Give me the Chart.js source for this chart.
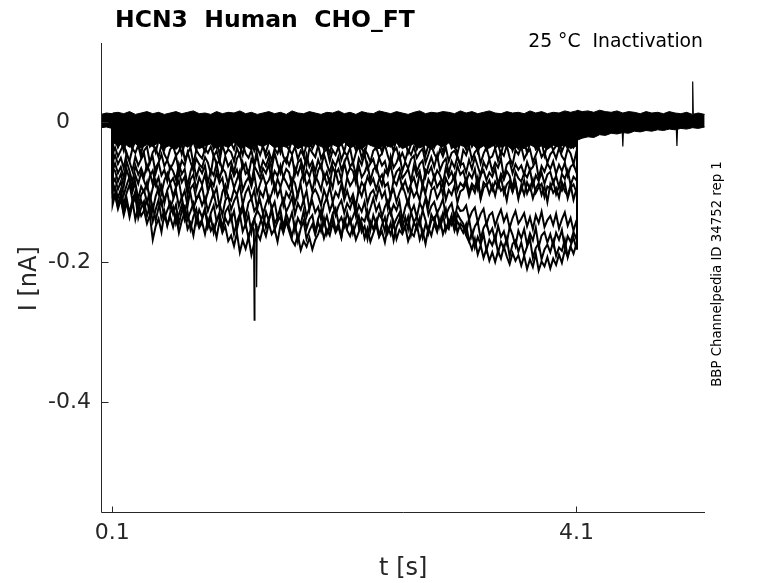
<!DOCTYPE html>
<html><head><meta charset="utf-8">
<script src="https://cdn.jsdelivr.net/npm/chart.js@4.4.1/dist/chart.umd.min.js"></script>
<style>html,body{margin:0;padding:0;background:#fff;}#wrap{width:778px;height:583px;position:relative;}</style>
</head><body><div id="wrap"><canvas id="c" width="778" height="583"></canvas></div>
<script>
const titleText = 'HCN3  Human  CHO_FT';
const conditionText = '25 °C  Inactivation';
const sideText = 'BBP Channelpedia ID 34752 rep 1';
const xLabel = 't [s]';
const yLabel = 'I [nA]';
const xTicks = [0.1, 4.1];
const yTicks = [0, -0.2, -0.4];
const xRange = [0.004, 5.208];
const yRange = [-0.557, 0.113];

// time samples of the test-pulse segment (s)
const tStep = [0.100, 0.104,
 0.125,0.150,0.175,0.200,0.225,0.250,0.275,0.300,0.325,0.350,
 0.375,0.400,0.425,0.450,0.475,0.500,0.525,0.550,0.575,0.600,
 0.625,0.650,0.675,0.700,0.725,0.750,0.775,0.800,0.825,0.850,
 0.875,0.900,0.925,0.950,0.975,1.000,1.025,1.050,1.075,1.100,
 1.125,1.150,1.175,1.200,1.225,1.250,1.275,1.300,1.325,1.350,
 1.375,1.400,1.425,1.450,1.475,1.500,1.525,1.550,1.575,1.600,
 1.625,1.650,1.675,1.700,1.725,1.750,1.775,1.800,1.825,1.850,
 1.875,1.900,1.925,1.950,1.975,2.000,2.025,2.050,2.075,2.100,
 2.125,2.150,2.175,2.200,2.225,2.250,2.275,2.300,2.325,2.350,
 2.375,2.400,2.425,2.450,2.475,2.500,2.525,2.550,2.575,2.600,
 2.625,2.650,2.675,2.700,2.725,2.750,2.775,2.800,2.825,2.850,
 2.875,2.900,2.925,2.950,2.975,3.000,3.025,3.050,3.075,3.100,
 3.125,3.150,3.175,3.200,3.225,3.250,3.275,3.300,3.325,3.350,
 3.375,3.400,3.425,3.450,3.475,3.500,3.525,3.550,3.575,3.600,
 3.625,3.650,3.675,3.700,3.725,3.750,3.775,3.800,3.825,3.850,
 3.875,3.900,3.925,3.950,3.975,4.000,4.025,4.050,4.075,4.100,
 4.105];

// sweep currents (nA), one array per sweep, sampled at tStep
const sweepA = [0.004, -0.008,
 -0.003,-0.008,0.001,-0.006,-0.012,-0.002,-0.007,0.002,-0.010,-0.004,
 -0.001,-0.009,-0.005,0.001,-0.013,-0.006,-0.002,-0.008,0.000,-0.011,
 -0.004,-0.007,0.002,-0.009,-0.003,-0.012,-0.005,0.000,-0.008,-0.002,
 -0.010,-0.004,-0.001,-0.007,-0.013,-0.003,0.001,-0.009,-0.005,-0.011,
 -0.002,-0.006,0.002,-0.010,-0.004,-0.008,-0.001,-0.012,-0.006,0.000,
 -0.009,-0.003,-0.007,0.001,-0.011,-0.005,-0.002,-0.008,-0.004,-0.013,
 0.000,-0.006,-0.010,-0.002,-0.007,0.002,-0.009,-0.004,-0.012,-0.001,
 -0.005,-0.011,-0.003,-0.008,0.001,-0.006,-0.010,-0.002,-0.007,-0.004,
 -0.012,-0.001,-0.006,-0.009,0.000,-0.005,-0.011,-0.003,-0.008,0.002,
 -0.007,-0.010,-0.004,-0.001,-0.009,-0.013,-0.002,-0.006,0.001,-0.008,
 -0.003,-0.011,-0.005,0.000,-0.008,-0.002,-0.012,-0.006,-0.004,-0.009,
 0.001,-0.007,-0.010,-0.003,-0.006,-0.013,-0.001,-0.008,-0.005,-0.002,
 -0.009,-0.004,0.000,-0.011,-0.006,-0.002,-0.008,-0.012,-0.003,-0.007,
 -0.001,-0.010,-0.005,0.002,-0.009,-0.004,-0.007,-0.013,-0.002,-0.006,
 -0.011,-0.003,-0.008,0.000,-0.006,-0.010,-0.002,-0.009,-0.005,-0.012,
 -0.004,0.001,-0.008,-0.006,-0.011,-0.002,-0.007,-0.003,-0.010,-0.005,
 0.002];
const sweepB = [0.003, -0.020,
 -0.012,-0.022,-0.009,-0.018,-0.026,-0.013,-0.020,-0.008,-0.016,-0.024,
 -0.014,-0.010,-0.021,-0.017,-0.028,-0.012,-0.019,-0.011,-0.023,-0.015,
 -0.009,-0.020,-0.013,-0.025,-0.016,-0.011,-0.022,-0.018,-0.010,-0.027,
 -0.015,-0.019,-0.008,-0.021,-0.014,-0.024,-0.012,-0.017,-0.029,-0.013,
 -0.020,-0.011,-0.016,-0.023,-0.010,-0.018,-0.026,-0.014,-0.019,-0.009,
 -0.022,-0.015,-0.012,-0.027,-0.017,-0.021,-0.010,-0.016,-0.024,-0.013,
 -0.018,-0.009,-0.023,-0.014,-0.020,-0.028,-0.012,-0.017,-0.011,-0.025,
 -0.013,-0.021,-0.016,-0.010,-0.026,-0.015,-0.019,-0.022,-0.012,-0.018,
 -0.024,-0.011,-0.017,-0.020,-0.009,-0.023,-0.014,-0.027,-0.016,-0.012,
 -0.019,-0.025,-0.013,-0.018,-0.022,-0.010,-0.021,-0.015,-0.028,-0.014,
 -0.010,-0.020,-0.016,-0.024,-0.012,-0.019,-0.026,-0.011,-0.017,-0.022,
 -0.015,-0.027,-0.013,-0.018,-0.021,-0.009,-0.023,-0.016,-0.020,-0.012,
 -0.025,-0.014,-0.019,-0.011,-0.022,-0.017,-0.028,-0.013,-0.018,-0.021,
 -0.012,-0.020,-0.024,-0.015,-0.010,-0.026,-0.017,-0.019,-0.013,-0.023,
 -0.018,-0.011,-0.021,-0.027,-0.014,-0.020,-0.012,-0.025,-0.016,-0.019,
 -0.022,-0.013,-0.017,-0.024,-0.010,-0.021,-0.015,-0.026,-0.018,-0.014,
 -0.006];
const sweepC = [0.002, -0.034,
 -0.024,-0.036,-0.027,-0.041,-0.022,-0.031,-0.038,-0.025,-0.033,-0.044,
 -0.028,-0.021,-0.035,-0.030,-0.043,-0.026,-0.032,-0.039,-0.023,-0.034,
 -0.037,-0.025,-0.029,-0.046,-0.031,-0.020,-0.035,-0.028,-0.040,-0.026,
 -0.033,-0.042,-0.027,-0.024,-0.038,-0.030,-0.045,-0.029,-0.022,-0.036,
 -0.030,-0.039,-0.023,-0.034,-0.047,-0.028,-0.032,-0.025,-0.041,-0.031,
 -0.026,-0.037,-0.043,-0.029,-0.021,-0.035,-0.031,-0.044,-0.027,-0.033,
 -0.040,-0.024,-0.030,-0.036,-0.028,-0.048,-0.032,-0.025,-0.038,-0.029,
 -0.034,-0.022,-0.039,-0.031,-0.045,-0.027,-0.023,-0.036,-0.030,-0.042,
 -0.025,-0.033,-0.029,-0.040,-0.024,-0.037,-0.046,-0.028,-0.032,-0.021,
 -0.038,-0.030,-0.043,-0.026,-0.034,-0.029,-0.041,-0.023,-0.035,-0.031,
 -0.027,-0.044,-0.032,-0.024,-0.039,-0.030,-0.026,-0.047,-0.033,-0.028,
 -0.036,-0.025,-0.031,-0.042,-0.029,-0.022,-0.037,-0.033,-0.045,-0.027,
 -0.030,-0.039,-0.024,-0.035,-0.028,-0.043,-0.031,-0.026,-0.040,-0.034,
 -0.023,-0.037,-0.032,-0.046,-0.029,-0.035,-0.025,-0.041,-0.030,-0.038,
 -0.033,-0.027,-0.044,-0.031,-0.024,-0.039,-0.035,-0.028,-0.048,-0.032,
 -0.029,-0.040,-0.034,-0.026,-0.042,-0.031,-0.037,-0.025,-0.036,-0.030,
 -0.010];
const sweepD = [0.003, -0.046,
 -0.036,-0.049,-0.040,-0.031,-0.047,-0.055,-0.038,-0.044,-0.033,-0.051,
 -0.041,-0.035,-0.058,-0.043,-0.037,-0.050,-0.032,-0.046,-0.054,-0.039,
 -0.034,-0.048,-0.042,-0.030,-0.053,-0.045,-0.036,-0.060,-0.040,-0.047,
 -0.052,-0.038,-0.044,-0.035,-0.049,-0.041,-0.057,-0.033,-0.046,-0.039,
 -0.043,-0.056,-0.037,-0.048,-0.031,-0.045,-0.051,-0.040,-0.062,-0.036,
 -0.047,-0.034,-0.050,-0.042,-0.055,-0.038,-0.045,-0.032,-0.049,-0.058,
 -0.039,-0.046,-0.035,-0.053,-0.041,-0.048,-0.061,-0.037,-0.044,-0.050,
 -0.033,-0.052,-0.043,-0.038,-0.056,-0.040,-0.047,-0.035,-0.054,-0.042,
 -0.048,-0.037,-0.059,-0.044,-0.034,-0.051,-0.039,-0.046,-0.057,-0.041,
 -0.036,-0.050,-0.045,-0.032,-0.048,-0.060,-0.042,-0.037,-0.053,-0.044,
 -0.055,-0.040,-0.047,-0.035,-0.051,-0.043,-0.038,-0.058,-0.046,-0.033,
 -0.045,-0.053,-0.039,-0.049,-0.036,-0.056,-0.044,-0.041,-0.050,-0.062,
 -0.040,-0.047,-0.034,-0.054,-0.043,-0.038,-0.059,-0.045,-0.036,-0.052,
 -0.049,-0.037,-0.055,-0.042,-0.048,-0.033,-0.051,-0.061,-0.040,-0.046,
 -0.035,-0.053,-0.044,-0.039,-0.057,-0.047,-0.036,-0.050,-0.043,-0.058,
 -0.046,-0.041,-0.052,-0.037,-0.049,-0.055,-0.038,-0.045,-0.060,-0.042,
 -0.014];
const sweepE = [0.001, -0.058,
 -0.047,-0.060,-0.051,-0.066,-0.044,-0.057,-0.070,-0.049,-0.062,-0.053,
 -0.045,-0.068,-0.056,-0.050,-0.073,-0.058,-0.046,-0.063,-0.054,-0.067,
 -0.059,-0.048,-0.071,-0.055,-0.062,-0.043,-0.057,-0.069,-0.052,-0.060,
 -0.065,-0.050,-0.058,-0.074,-0.047,-0.061,-0.054,-0.068,-0.049,-0.063,
 -0.056,-0.072,-0.052,-0.045,-0.066,-0.059,-0.076,-0.053,-0.061,-0.048,
 -0.070,-0.055,-0.063,-0.050,-0.067,-0.044,-0.060,-0.073,-0.057,-0.051,
 -0.062,-0.049,-0.075,-0.058,-0.053,-0.069,-0.047,-0.064,-0.056,-0.071,
 -0.054,-0.066,-0.046,-0.060,-0.072,-0.055,-0.063,-0.050,-0.068,-0.058,
 -0.048,-0.064,-0.057,-0.077,-0.052,-0.061,-0.045,-0.067,-0.059,-0.053,
 -0.069,-0.051,-0.062,-0.056,-0.074,-0.049,-0.065,-0.058,-0.046,-0.070,
 -0.057,-0.066,-0.053,-0.048,-0.071,-0.060,-0.055,-0.078,-0.062,-0.050,
 -0.064,-0.047,-0.069,-0.058,-0.052,-0.073,-0.056,-0.065,-0.049,-0.061,
 -0.059,-0.072,-0.054,-0.067,-0.050,-0.063,-0.076,-0.057,-0.066,-0.053,
 -0.070,-0.058,-0.065,-0.052,-0.079,-0.061,-0.056,-0.073,-0.060,-0.068,
 -0.062,-0.075,-0.057,-0.069,-0.064,-0.054,-0.080,-0.063,-0.071,-0.059,
 -0.067,-0.056,-0.074,-0.061,-0.070,-0.058,-0.077,-0.064,-0.060,-0.072,
 -0.016];
const sweepF = [0.002, -0.070,
 -0.059,-0.073,-0.064,-0.080,-0.056,-0.070,-0.086,-0.062,-0.075,-0.066,
 -0.078,-0.061,-0.072,-0.089,-0.065,-0.058,-0.076,-0.068,-0.084,-0.063,
 -0.070,-0.082,-0.060,-0.074,-0.067,-0.091,-0.071,-0.057,-0.079,-0.065,
 -0.073,-0.062,-0.087,-0.069,-0.076,-0.059,-0.081,-0.066,-0.072,-0.090,
 -0.064,-0.077,-0.068,-0.083,-0.058,-0.074,-0.069,-0.088,-0.063,-0.071,
 -0.080,-0.066,-0.073,-0.060,-0.085,-0.070,-0.077,-0.062,-0.079,-0.067,
 -0.072,-0.092,-0.065,-0.075,-0.061,-0.083,-0.068,-0.078,-0.063,-0.086,
 -0.069,-0.060,-0.081,-0.071,-0.089,-0.064,-0.074,-0.067,-0.082,-0.058,
 -0.076,-0.065,-0.070,-0.087,-0.062,-0.079,-0.072,-0.060,-0.084,-0.068,
 -0.063,-0.078,-0.090,-0.069,-0.075,-0.061,-0.083,-0.071,-0.066,-0.080,
 -0.074,-0.067,-0.085,-0.062,-0.077,-0.070,-0.093,-0.068,-0.073,-0.064,
 -0.081,-0.069,-0.076,-0.088,-0.065,-0.079,-0.071,-0.084,-0.062,-0.075,
 -0.070,-0.086,-0.073,-0.080,-0.067,-0.094,-0.075,-0.069,-0.083,-0.072,
 -0.078,-0.066,-0.089,-0.074,-0.082,-0.070,-0.077,-0.095,-0.071,-0.080,
 -0.085,-0.073,-0.079,-0.068,-0.091,-0.076,-0.084,-0.072,-0.088,-0.075,
 -0.071,-0.087,-0.077,-0.093,-0.074,-0.081,-0.069,-0.090,-0.078,-0.083,
 -0.018];
const sweepG = [0.001, -0.066,
 -0.070,-0.085,-0.074,-0.092,-0.068,-0.081,-0.098,-0.076,-0.088,-0.072,
 -0.084,-0.095,-0.077,-0.069,-0.090,-0.079,-0.101,-0.083,-0.073,-0.087,
 -0.080,-0.093,-0.071,-0.086,-0.078,-0.104,-0.082,-0.075,-0.096,-0.079,
 -0.089,-0.074,-0.099,-0.083,-0.091,-0.072,-0.087,-0.080,-0.105,-0.085,
 -0.077,-0.094,-0.082,-0.070,-0.097,-0.086,-0.079,-0.092,-0.075,-0.102,
 -0.088,-0.076,-0.090,-0.083,-0.071,-0.098,-0.081,-0.093,-0.078,-0.086,
 -0.095,-0.080,-0.087,-0.106,-0.084,-0.073,-0.091,-0.082,-0.099,-0.077,
 -0.085,-0.097,-0.074,-0.089,-0.081,-0.094,-0.070,-0.088,-0.083,-0.103,
 -0.079,-0.091,-0.084,-0.072,-0.100,-0.086,-0.093,-0.078,-0.089,-0.081,
 -0.096,-0.082,-0.075,-0.092,-0.087,-0.107,-0.083,-0.090,-0.076,-0.094,
 -0.084,-0.099,-0.088,-0.079,-0.095,-0.073,-0.089,-0.101,-0.082,-0.091,
 -0.077,-0.093,-0.085,-0.104,-0.080,-0.090,-0.086,-0.075,-0.098,-0.087,
 -0.092,-0.081,-0.100,-0.088,-0.094,-0.079,-0.108,-0.086,-0.091,-0.083,
 -0.097,-0.085,-0.093,-0.078,-0.102,-0.089,-0.084,-0.099,-0.087,-0.110,
 -0.090,-0.104,-0.086,-0.096,-0.082,-0.101,-0.093,-0.088,-0.107,-0.092,
 -0.095,-0.084,-0.103,-0.091,-0.098,-0.087,-0.109,-0.094,-0.089,-0.100,
 -0.019];
const sweepH = [0.002, -0.088,
 -0.081,-0.096,-0.085,-0.104,-0.090,-0.078,-0.099,-0.087,-0.110,-0.092,
 -0.100,-0.086,-0.113,-0.094,-0.083,-0.102,-0.091,-0.116,-0.097,-0.088,
 -0.106,-0.093,-0.084,-0.109,-0.098,-0.120,-0.095,-0.089,-0.111,-0.101,
 -0.092,-0.115,-0.099,-0.087,-0.105,-0.094,-0.122,-0.100,-0.090,-0.108,
 -0.112,-0.096,-0.104,-0.089,-0.118,-0.101,-0.093,-0.110,-0.097,-0.124,
 -0.099,-0.107,-0.091,-0.114,-0.102,-0.088,-0.106,-0.095,-0.119,-0.100,
 -0.108,-0.094,-0.117,-0.101,-0.090,-0.112,-0.098,-0.125,-0.103,-0.096,
 -0.105,-0.119,-0.097,-0.109,-0.092,-0.114,-0.100,-0.107,-0.089,-0.111,
 -0.098,-0.113,-0.103,-0.121,-0.095,-0.106,-0.091,-0.116,-0.102,-0.097,
 -0.110,-0.093,-0.108,-0.099,-0.123,-0.104,-0.096,-0.114,-0.101,-0.090,
 -0.102,-0.118,-0.094,-0.107,-0.099,-0.112,-0.088,-0.105,-0.120,-0.097,
 -0.093,-0.109,-0.100,-0.086,-0.111,-0.097,-0.104,-0.091,-0.115,-0.099,
 -0.096,-0.087,-0.106,-0.092,-0.101,-0.084,-0.110,-0.094,-0.089,-0.103,
 -0.090,-0.105,-0.086,-0.098,-0.093,-0.112,-0.088,-0.100,-0.085,-0.107,
 -0.097,-0.083,-0.102,-0.091,-0.109,-0.095,-0.087,-0.104,-0.092,-0.114,
 -0.089,-0.101,-0.094,-0.108,-0.086,-0.099,-0.105,-0.090,-0.111,-0.096,
 -0.020];
const sweepI = [0.001, -0.098,
 -0.092,-0.108,-0.096,-0.117,-0.101,-0.089,-0.112,-0.099,-0.121,-0.104,
 -0.097,-0.115,-0.103,-0.126,-0.106,-0.094,-0.118,-0.109,-0.100,-0.123,
 -0.111,-0.098,-0.120,-0.107,-0.130,-0.113,-0.102,-0.124,-0.110,-0.105,
 -0.119,-0.108,-0.127,-0.114,-0.101,-0.122,-0.116,-0.133,-0.112,-0.106,
 -0.125,-0.113,-0.104,-0.129,-0.118,-0.136,-0.115,-0.109,-0.127,-0.120,
 -0.112,-0.131,-0.117,-0.106,-0.124,-0.114,-0.138,-0.121,-0.110,-0.128,
 -0.119,-0.107,-0.132,-0.116,-0.125,-0.111,-0.135,-0.122,-0.113,-0.129,
 -0.121,-0.139,-0.118,-0.108,-0.127,-0.115,-0.133,-0.120,-0.112,-0.130,
 -0.116,-0.124,-0.110,-0.134,-0.119,-0.128,-0.114,-0.137,-0.123,-0.109,
 -0.127,-0.117,-0.135,-0.121,-0.112,-0.131,-0.118,-0.126,-0.113,-0.140,
 -0.122,-0.111,-0.129,-0.119,-0.136,-0.115,-0.125,-0.109,-0.132,-0.120,
 -0.114,-0.130,-0.121,-0.110,-0.134,-0.123,-0.116,-0.138,-0.119,-0.127,
 -0.126,-0.119,-0.139,-0.128,-0.122,-0.143,-0.131,-0.124,-0.146,-0.133,
 -0.129,-0.148,-0.135,-0.125,-0.142,-0.132,-0.151,-0.137,-0.127,-0.145,
 -0.138,-0.130,-0.149,-0.136,-0.153,-0.133,-0.144,-0.128,-0.150,-0.140,
 -0.134,-0.147,-0.131,-0.152,-0.139,-0.129,-0.148,-0.137,-0.155,-0.141,
 -0.021];
const sweepJ = [0.001, -0.106,
 -0.103,-0.121,-0.109,-0.130,-0.114,-0.136,-0.117,-0.106,-0.127,-0.112,
 -0.124,-0.110,-0.133,-0.119,-0.141,-0.122,-0.113,-0.137,-0.126,-0.115,
 -0.131,-0.118,-0.145,-0.127,-0.120,-0.139,-0.128,-0.116,-0.143,-0.125,
 -0.136,-0.123,-0.148,-0.130,-0.119,-0.142,-0.133,-0.151,-0.129,-0.121,
 -0.140,-0.127,-0.153,-0.135,-0.124,-0.147,-0.132,-0.158,-0.138,-0.126,
 -0.134,-0.149,-0.128,-0.141,-0.122,-0.145,-0.136,-0.125,-0.150,-0.131,
 -0.143,-0.129,-0.155,-0.137,-0.146,-0.127,-0.152,-0.139,-0.133,-0.157,
 -0.138,-0.126,-0.147,-0.134,-0.152,-0.131,-0.123,-0.144,-0.136,-0.149,
 -0.129,-0.145,-0.135,-0.124,-0.150,-0.137,-0.142,-0.127,-0.154,-0.133,
 -0.146,-0.131,-0.139,-0.156,-0.134,-0.125,-0.148,-0.138,-0.130,-0.151,
 -0.136,-0.153,-0.128,-0.143,-0.135,-0.147,-0.126,-0.140,-0.158,-0.132,
 -0.141,-0.129,-0.150,-0.137,-0.124,-0.146,-0.133,-0.152,-0.131,-0.139,
 -0.145,-0.158,-0.138,-0.163,-0.149,-0.142,-0.167,-0.151,-0.144,-0.160,
 -0.152,-0.170,-0.148,-0.164,-0.156,-0.173,-0.150,-0.161,-0.177,-0.155,
 -0.166,-0.153,-0.175,-0.159,-0.169,-0.151,-0.178,-0.162,-0.157,-0.172,
 -0.160,-0.176,-0.158,-0.168,-0.154,-0.180,-0.163,-0.171,-0.157,-0.167,
 -0.022];
const sweepK = [0.001, -0.085,
 -0.098,-0.117,-0.104,-0.126,-0.109,-0.131,-0.118,-0.106,-0.137,-0.122,
 -0.113,-0.134,-0.119,-0.142,-0.125,-0.111,-0.138,-0.127,-0.148,-0.130,
 -0.121,-0.145,-0.132,-0.118,-0.140,-0.128,-0.153,-0.135,-0.124,-0.147,
 -0.139,-0.126,-0.150,-0.136,-0.158,-0.141,-0.129,-0.155,-0.137,-0.146,
 -0.134,-0.160,-0.143,-0.131,-0.156,-0.145,-0.166,-0.148,-0.138,-0.159,
 -0.144,-0.132,-0.151,-0.139,-0.127,-0.154,-0.142,-0.135,-0.157,-0.140,
 -0.149,-0.163,-0.145,-0.170,-0.152,-0.141,-0.167,-0.155,-0.146,-0.161,
 -0.143,-0.156,-0.137,-0.160,-0.148,-0.133,-0.154,-0.145,-0.164,-0.139,
 -0.151,-0.138,-0.159,-0.146,-0.134,-0.157,-0.149,-0.167,-0.142,-0.153,
 -0.140,-0.162,-0.147,-0.136,-0.158,-0.144,-0.169,-0.150,-0.139,-0.155,
 -0.148,-0.135,-0.161,-0.143,-0.153,-0.137,-0.164,-0.146,-0.156,-0.141,
 -0.136,-0.152,-0.144,-0.130,-0.155,-0.140,-0.147,-0.133,-0.158,-0.145,
 -0.150,-0.162,-0.171,-0.157,-0.179,-0.164,-0.175,-0.160,-0.183,-0.168,
 -0.176,-0.163,-0.187,-0.171,-0.181,-0.166,-0.192,-0.174,-0.169,-0.185,
 -0.172,-0.190,-0.178,-0.167,-0.194,-0.180,-0.173,-0.196,-0.182,-0.175,
 -0.186,-0.170,-0.191,-0.179,-0.184,-0.168,-0.193,-0.177,-0.165,-0.181,
 -0.023];
const sweepL = [0.002, -0.118,
 -0.104,-0.124,-0.110,-0.133,-0.116,-0.128,-0.112,-0.139,-0.121,-0.134,
 -0.126,-0.145,-0.133,-0.168,-0.149,-0.138,-0.157,-0.130,-0.147,-0.135,
 -0.150,-0.132,-0.158,-0.141,-0.129,-0.153,-0.144,-0.162,-0.137,-0.151,
 -0.143,-0.160,-0.139,-0.155,-0.147,-0.165,-0.141,-0.158,-0.149,-0.170,
 -0.162,-0.177,-0.158,-0.186,-0.169,-0.181,-0.164,-0.190,-0.172,-0.159,
 -0.168,-0.151,-0.163,-0.145,-0.160,-0.153,-0.171,-0.147,-0.158,-0.142,
 -0.156,-0.169,-0.176,-0.161,-0.183,-0.170,-0.178,-0.165,-0.182,-0.168,
 -0.160,-0.147,-0.166,-0.153,-0.162,-0.144,-0.158,-0.150,-0.165,-0.141,
 -0.155,-0.163,-0.149,-0.168,-0.157,-0.145,-0.166,-0.152,-0.171,-0.159,
 -0.147,-0.164,-0.156,-0.172,-0.150,-0.161,-0.143,-0.167,-0.154,-0.160,
 -0.149,-0.170,-0.158,-0.163,-0.146,-0.168,-0.155,-0.174,-0.151,-0.162,
 -0.145,-0.157,-0.139,-0.160,-0.148,-0.153,-0.136,-0.155,-0.142,-0.150,
 -0.158,-0.146,-0.170,-0.182,-0.167,-0.189,-0.176,-0.194,-0.181,-0.198,
 -0.186,-0.200,-0.184,-0.195,-0.178,-0.192,-0.203,-0.187,-0.198,-0.190,
 -0.205,-0.191,-0.210,-0.196,-0.207,-0.188,-0.212,-0.199,-0.206,-0.193,
 -0.209,-0.195,-0.204,-0.189,-0.201,-0.183,-0.192,-0.178,-0.188,-0.174,
 -0.024];
const sweeps = [sweepA, sweepB, sweepC, sweepD, sweepE, sweepF, sweepG, sweepH, sweepI, sweepJ, sweepK, sweepL];

// envelope of the densely overlapping region near the holding level (whole record)
const tBand = [0.005,0.05,0.100,0.104,0.15,0.20,0.25,0.30,0.35,0.40,
 0.45,0.50,0.55,0.60,0.65,0.70,0.75,0.80,0.85,0.90,
 0.95,1.00,1.05,1.10,1.15,1.20,1.25,1.30,1.35,1.40,
 1.45,1.50,1.55,1.60,1.65,1.70,1.75,1.80,1.85,1.90,
 1.95,2.00,2.05,2.10,2.15,2.20,2.25,2.30,2.35,2.40,
 2.45,2.50,2.55,2.60,2.65,2.70,2.75,2.80,2.85,2.90,
 2.95,3.00,3.05,3.10,3.15,3.20,3.25,3.30,3.35,3.40,
 3.45,3.50,3.55,3.60,3.65,3.70,3.75,3.80,3.85,3.90,
 3.95,4.00,4.05,4.100,4.105,4.15,4.20,4.25,4.30,4.35,
 4.40,4.45,4.50,4.55,4.60,4.65,4.70,4.75,4.80,4.85,
 4.90,4.95,5.00,5.05,5.10,5.15,5.205];
const bandUpper = [0.011,0.013,0.012,0.013,0.014,0.012,0.015,0.011,0.013,0.015,
 0.012,0.014,0.011,0.013,0.015,0.012,0.014,0.016,0.012,0.013,
 0.011,0.015,0.012,0.014,0.013,0.016,0.012,0.014,0.011,0.013,
 0.015,0.012,0.014,0.011,0.016,0.013,0.012,0.015,0.013,0.011,
 0.014,0.013,0.016,0.012,0.014,0.011,0.015,0.013,0.012,0.016,
 0.014,0.012,0.015,0.013,0.011,0.014,0.016,0.012,0.014,0.013,
 0.015,0.014,0.012,0.016,0.013,0.015,0.012,0.014,0.016,0.013,
 0.012,0.015,0.013,0.014,0.012,0.016,0.013,0.015,0.012,0.014,
 0.013,0.016,0.014,0.016,0.017,0.015,0.016,0.014,0.017,0.015,
 0.014,0.016,0.013,0.015,0.014,0.012,0.015,0.013,0.014,0.012,
 0.015,0.013,0.012,0.014,0.011,0.013,0.011];
const bandLower = [-0.008,-0.007,-0.009,-0.028,-0.034,-0.030,-0.036,-0.031,-0.037,-0.032,
 -0.035,-0.029,-0.037,-0.033,-0.039,-0.031,-0.036,-0.030,-0.038,-0.034,
 -0.031,-0.038,-0.033,-0.036,-0.029,-0.037,-0.034,-0.040,-0.032,-0.035,
 -0.030,-0.037,-0.033,-0.036,-0.031,-0.038,-0.034,-0.036,-0.030,-0.035,
 -0.038,-0.032,-0.036,-0.029,-0.037,-0.033,-0.039,-0.031,-0.035,-0.038,
 -0.032,-0.036,-0.030,-0.038,-0.034,-0.031,-0.037,-0.033,-0.039,-0.032,
 -0.035,-0.030,-0.038,-0.033,-0.036,-0.031,-0.039,-0.034,-0.037,-0.032,
 -0.036,-0.033,-0.040,-0.035,-0.038,-0.032,-0.037,-0.034,-0.039,-0.033,
 -0.036,-0.032,-0.038,-0.034,-0.026,-0.023,-0.021,-0.022,-0.018,-0.019,
 -0.016,-0.017,-0.015,-0.016,-0.013,-0.014,-0.012,-0.013,-0.011,-0.012,
 -0.010,-0.011,-0.009,-0.010,-0.008,-0.009,-0.007];

// brief transients (time, current)
const spikeT = [[1.318,1.324,1.330],[1.340,1.345,1.350],[4.495,4.500,4.505],[4.961,4.966,4.971],[5.097,5.102,5.107]];
const spikeV = [[-0.150,-0.283,-0.152],[-0.145,-0.236,-0.148],[-0.012,-0.035,-0.012],[-0.010,-0.034,-0.010],[0.012,0.058,0.011]];

const toXY = (xs, ys) => xs.map((x, i) => ({x: x, y: ys[i]}));
const lineStyle = {borderColor: '#000', borderWidth: 1, pointRadius: 0, fill: false, tension: 0};

const datasets = [];
datasets.push(Object.assign({}, lineStyle, {data: toXY(tBand, bandUpper)}));
datasets.push(Object.assign({}, lineStyle, {data: toXY(tBand, bandLower), fill: '-1', backgroundColor: '#000'}));
sweeps.forEach(s => datasets.push(Object.assign({}, lineStyle, {borderWidth: 2, data: toXY(tStep, s)})));
spikeT.forEach((ts, k) => datasets.push(Object.assign({}, lineStyle, {borderWidth: 1.2, data: toXY(ts, spikeV[k])})));

const AX = '#262626';
const decor = {
  id: 'decor',
  afterDraw(chart) {
    const ctx = chart.ctx, xs = chart.scales.x, ys = chart.scales.y;
    const x0 = Math.round(xs.getPixelForValue(xRange[0])) + 0.5, x1 = xs.getPixelForValue(xRange[1]);
    const yTop = ys.getPixelForValue(yRange[1]), yBot = Math.round(ys.getPixelForValue(yRange[0])) + 0.5;
    ctx.save();
    ctx.strokeStyle = AX; ctx.lineWidth = 1;
    ctx.beginPath();
    ctx.moveTo(x0, yTop); ctx.lineTo(x0, yBot); ctx.lineTo(x1, yBot); ctx.stroke();
    xTicks.forEach(v => { const p = Math.round(xs.getPixelForValue(v)) + 0.5; ctx.beginPath(); ctx.moveTo(p, yBot); ctx.lineTo(p, yBot - 6); ctx.stroke(); });
    yTicks.forEach(v => { const p = Math.round(ys.getPixelForValue(v)) + 0.5; ctx.beginPath(); ctx.moveTo(x0, p); ctx.lineTo(x0 + 7, p); ctx.stroke(); });
    ctx.fillStyle = '#000';
    ctx.font = 'bold 23.5px "DejaVu Sans"'; ctx.textAlign = 'left'; ctx.textBaseline = 'alphabetic';
    ctx.fillText(titleText, 115, 26.7);
    ctx.font = '18.8px "DejaVu Sans"'; ctx.textAlign = 'right';
    ctx.fillText(conditionText, 703, 46.7);
    ctx.fillStyle = AX;
    ctx.font = '24px "DejaVu Sans"'; ctx.textAlign = 'center';
    ctx.fillText(xLabel, (x0 + x1) / 2, 575);
    ctx.save(); ctx.translate(36, (yTop + yBot) / 2 + 1); ctx.rotate(-Math.PI / 2);
    ctx.fillText(yLabel, 0, 0); ctx.restore();
    ctx.fillStyle = '#000';
    ctx.save(); ctx.translate(720.5, 274); ctx.rotate(-Math.PI / 2);
    ctx.font = '13.3px "DejaVu Sans"'; ctx.textAlign = 'center';
    ctx.fillText(sideText, 0, 0); ctx.restore();
    ctx.restore();
  }
};

new Chart(document.getElementById('c'), {
  type: 'line',
  data: {datasets: datasets},
  options: {
    responsive: false, animation: false, events: [],
    layout: {padding: {left: 0, top: 43, right: 73, bottom: 0}},
    plugins: {legend: {display: false}, tooltip: {enabled: false}},
    scales: {
      x: {type: 'linear', min: xRange[0], max: xRange[1],
        afterBuildTicks: s => { s.ticks = xTicks.map(v => ({value: v})); },
        afterFit: s => { s.height = 71; },
        grid: {display: false, drawTicks: false},
        border: {display: false},
        ticks: {font: {family: 'DejaVu Sans', size: 22}, color: AX, padding: 8, maxRotation: 0, autoSkip: false,
          callback: v => String(v)}},
      y: {type: 'linear', min: yRange[0], max: yRange[1],
        afterBuildTicks: s => { s.ticks = yTicks.map(v => ({value: v})); },
        afterFit: s => { s.width = 101; },
        grid: {display: false, drawTicks: false},
        border: {display: false},
        ticks: {font: {family: 'DejaVu Sans', size: 22}, color: AX, padding: 10, autoSkip: false,
          callback: v => (v === 0 ? '0   ' : String(v))}}
    }
  },
  plugins: [decor]
});
</script></body></html>
